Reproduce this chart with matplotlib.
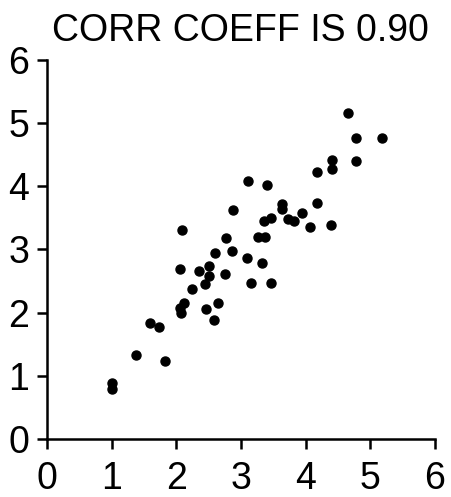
import matplotlib
matplotlib.use('Agg')
import matplotlib.pyplot as plt

# values
x_vals = [1.00, 1.00, 1.38, 1.83, 1.59, 1.74, 2.05, 2.07, 2.12, 2.25,
          2.46, 2.58, 2.64, 2.05, 2.35, 2.50, 2.50, 2.45, 2.75, 2.60,
          2.09, 2.86, 2.77, 2.87, 3.09, 3.15, 3.32, 3.46, 3.26, 3.38,
          3.11, 3.40, 3.35, 3.47, 3.64, 3.63, 3.94, 3.73, 3.82, 4.07,
          4.40, 4.18, 4.18, 4.41, 4.41, 4.78, 4.66, 4.78, 5.18]
y_vals = [0.89, 0.79, 1.33, 1.23, 1.83, 1.77, 2.07, 1.99, 2.16, 2.37,
          2.05, 1.88, 2.15, 2.69, 2.66, 2.74, 2.58, 2.45, 2.61, 2.94,
          3.31, 2.97, 3.19, 3.62, 2.86, 2.47, 2.78, 2.47, 3.20, 3.20,
          4.09, 4.02, 3.45, 3.50, 3.72, 3.64, 3.58, 3.48, 3.45, 3.36,
          3.39, 3.73, 4.23, 4.41, 4.28, 4.40, 5.16, 4.77, 4.77]
ticks = [0, 1, 2, 3, 4, 5, 6]
title = 'CORR COEFF IS 0.90'

plt.rcParams['font.family'] = ['Liberation Sans', 'DejaVu Sans']

fig = plt.figure(figsize=(4.52, 4.97), dpi=100)
ax = fig.add_axes([0.104, 0.117, 0.858, 0.762])

ax.plot(x_vals, y_vals, 'o', color='black', markersize=6.5, clip_on=False)

ax.set_xlim(0, 6)
ax.set_ylim(0, 6)
ax.set_xticks(ticks)
ax.set_yticks(ticks)
ax.spines['top'].set_visible(False)
ax.spines['right'].set_visible(False)
for s in ['left', 'bottom']:
    ax.spines[s].set_linewidth(1.8)
ax.tick_params(direction='out', length=7, width=1.8, labelsize=27)
ax.tick_params(axis='x', pad=9)
ax.tick_params(axis='y', pad=6)

ax.set_title(title, fontsize=27, pad=14)

fig.savefig('out.png', dpi=100)
